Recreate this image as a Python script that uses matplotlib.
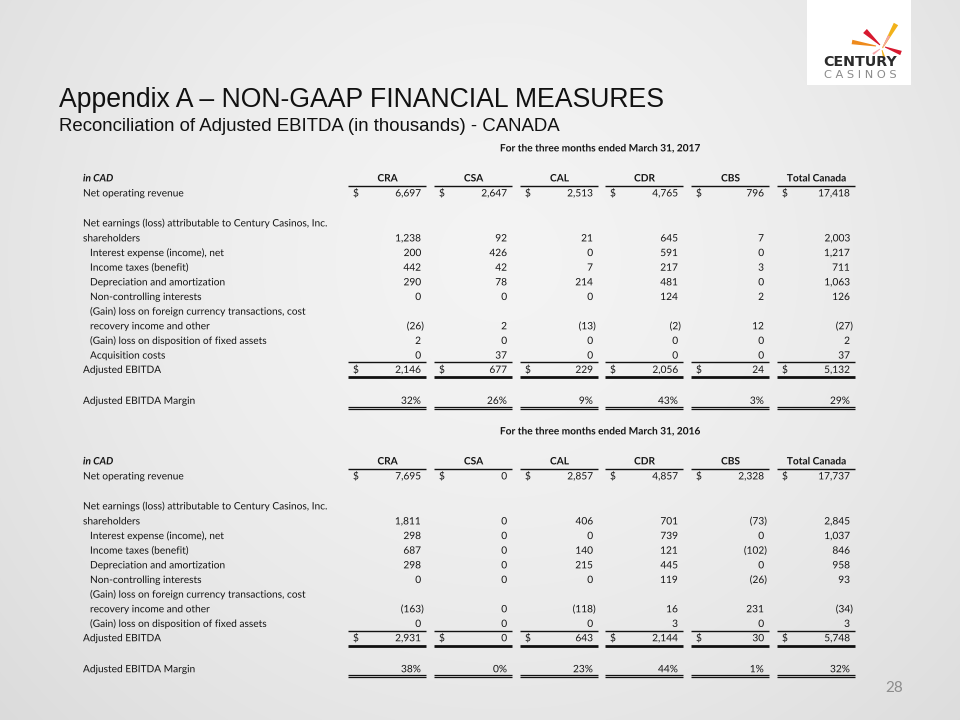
import numpy as np
import matplotlib
matplotlib.use("Agg")
import matplotlib.pyplot as plt
import matplotlib.patheffects as pe
from matplotlib.patches import Rectangle, Polygon

# ---------------- data ----------------
columns = ["CRA", "CSA", "CAL", "CDR", "CBS", "Total Canada"]

period_2017 = "For the three months ended March 31, 2017"
period_2016 = "For the three months ended March 31, 2016"

net_rev_2017 = [6697, 2647, 2513, 4765, 796, 17418]
net_earn_2017 = [1238, 92, 21, 645, 7, 2003]
interest_2017 = [200, 426, 0, 591, 0, 1217]
taxes_2017 = [442, 42, 7, 217, 3, 711]
dep_2017 = [290, 78, 214, 481, 0, 1063]
nci_2017 = [0, 0, 0, 124, 2, 126]
fx_2017 = [-26, 2, -13, -2, 12, -27]
disp_2017 = [2, 0, 0, 0, 0, 2]
acq_2017 = [0, 37, 0, 0, 0, 37]
ebitda_2017 = [2146, 677, 229, 2056, 24, 5132]
margin_2017 = [32, 26, 9, 43, 3, 29]

net_rev_2016 = [7695, 0, 2857, 4857, 2328, 17737]
net_earn_2016 = [1811, 0, 406, 701, -73, 2845]
interest_2016 = [298, 0, 0, 739, 0, 1037]
taxes_2016 = [687, 0, 140, 121, -102, 846]
dep_2016 = [298, 0, 215, 445, 0, 958]
nci_2016 = [0, 0, 0, 119, -26, 93]
fx_2016 = [-163, 0, -118, 16, 231, -34]
disp_2016 = [0, 0, 0, 3, 0, 3]
ebitda_2016 = [2931, 0, 643, 2144, 30, 5748]
margin_2016 = [38, 0, 23, 44, 1, 32]

lbl_net_rev = "Net operating revenue"
lbl_earn1 = "Net earnings (loss) attributable to Century Casinos, Inc."
lbl_earn2 = "shareholders"
lbl_interest = "Interest expense (income), net"
lbl_taxes = "Income taxes (benefit)"
lbl_dep = "Depreciation and amortization"
lbl_nci = "Non-controlling interests"
lbl_fx1 = "(Gain) loss on foreign currency transactions, cost"
lbl_fx2 = "recovery income and other"
lbl_disp = "(Gain) loss on disposition of fixed assets"
lbl_acq = "Acquisition costs"
lbl_ebitda = "Adjusted EBITDA"
lbl_margin = "Adjusted EBITDA Margin"

title = "Appendix A \u2013 NON-GAAP FINANCIAL MEASURES"
subtitle = "Reconciliation of Adjusted EBITDA (in thousands) - CANADA"
page_no = "28"

# ---------------- figure ----------------
W, H = 960, 720
fig = plt.figure(figsize=(W / 100, H / 100), dpi=100)
ax = fig.add_axes([0, 0, 1, 1])
ax.set_xlim(0, W)
ax.set_ylim(H, 0)
ax.axis("off")

# background radial gradient
yy, xx = np.mgrid[0:H, 0:W]
d = np.sqrt((xx - 500) ** 2 + (yy - 260) ** 2) / 700.0
val = 0.955 - 0.10 * np.clip(d, 0, 1.2) ** 1.6
bg = np.dstack([val, val, val])
ax.imshow(bg, extent=[0, W, H, 0], aspect="auto", zorder=0, interpolation="bilinear")

# logo
ax.add_patch(Rectangle((807, 0), 104, 85, facecolor="white", edgecolor="none", zorder=1))


def stroke(p0, p1, w0, w1, color):
    p0 = np.array(p0, float)
    p1 = np.array(p1, float)
    v = p1 - p0
    n = np.array([-v[1], v[0]]) / np.hypot(*v)
    pts = [p0 + n * w0 / 2, p1 + n * w1 / 2, p1 - n * w1 / 2, p0 - n * w0 / 2]
    ax.add_patch(Polygon(pts, closed=True, facecolor=color, edgecolor="none", zorder=2))


stroke((882.5, 48), (896, 24), 1.0, 5.0, "#f2b21a")
stroke((880, 45), (865, 31), 1.0, 5.5, "#d7192f")
stroke((876, 46), (852, 42), 1.0, 4.5, "#ee8a1c")
stroke((885, 47), (901, 53), 1.0, 4.5, "#d7192f")
stroke((883, 47), (889, 36), 0.8, 2.5, "#f4a3a8")
stroke((882, 50), (884, 57), 0.8, 2.2, "#f2b21a")
stroke((880, 49), (873, 54), 0.8, 2.2, "#f4a3a8")

ax.text(860, 65.5, "CENTURY", fontsize=10.3, fontweight="bold", color="#2b2b2b",
        ha="center", va="baseline", family=["DejaVu Sans"], zorder=3)
ax.text(860, 77.5, "C A S I N O S", fontsize=8.2, color="#8a8a8a",
        ha="center", va="baseline", family=["DejaVu Sans"], zorder=3)

# titles
sans = ["Liberation Sans", "DejaVu Sans"]
ax.text(59, 107, title, fontsize=19.2, color="#111111", family=sans,
        ha="left", va="baseline", zorder=3)
ax.text(59, 131, subtitle, fontsize=13.45, color="#111111", family=sans,
        ha="left", va="baseline", zorder=3)

# page number
ax.text(894, 691.5, page_no, fontsize=11, color="#8c8c8c", ha="center", va="baseline",
        family=["Lato", "DejaVu Sans"], zorder=3)

# ---------------- table drawing ----------------
tfont = ["Lato", "DejaVu Sans"]
FS = 7.3
TXT = "#141414"
BL = 3.4  # baseline offset from row centre
col_start = [348, 434, 520, 605, 691, 777]
col_w = 79
LX = 83
IX = 90
PE = [pe.Normal()]  # draw glyph outlines at exact (sub-pixel) baseline positions


def fmt(v, pct=False):
    s = f"{abs(v):,}" + ("%" if pct else "")
    return f"({s})" if v < 0 else s


def txt(x, y, s, ha="left", **kw):
    ax.text(x, y + BL, s, fontsize=FS, color=TXT, family=tfont, ha=ha,
            va="baseline", zorder=3, path_effects=PE, **kw)


def put_values(y, vals, dollar=False, pct=False):
    for cs, v in zip(col_start, vals):
        if v < 0:
            txt(cs + col_w - 3, y, fmt(v, pct), ha="right")
        else:
            txt(cs + col_w - 6, y, fmt(v, pct), ha="right")
        if dollar:
            txt(cs + 5, y, "$")


def hlines(y, lw):
    for cs in col_start:
        ax.plot([cs, cs + col_w - 1], [y, y], color="#111111", lw=lw,
                solid_capstyle="butt", zorder=3)


def label(y, text, indent=False):
    txt(IX if indent else LX, y, text)


def draw_table(top, period, rev, earn, interest, taxes, dep, nci, fx, disp, acq,
               ebitda, margin):
    txt(601, top, period, ha="center", fontweight="bold")
    yh = top + 30
    txt(LX, yh, "in CAD", fontweight="bold", fontstyle="italic")
    for cs, c in zip(col_start, columns):
        txt(cs + col_w / 2, yh, c, ha="center", fontweight="bold")
    hlines(yh + 8, 1.0)
    y = top + 45
    label(y, lbl_net_rev)
    put_values(y, rev, dollar=True)
    y = top + 75
    label(y, lbl_earn1)
    y += 15
    label(y, lbl_earn2)
    put_values(y, earn)
    step = 14.65
    rows = [(lbl_interest, interest), (lbl_taxes, taxes), (lbl_dep, dep),
            (lbl_nci, nci)]
    for lt, vals in rows:
        y += step
        label(y, lt, True)
        put_values(y, vals)
    y += step
    label(y, lbl_fx1, True)
    y += step
    label(y, lbl_fx2, True)
    put_values(y, fx)
    y += step
    label(y, lbl_disp, True)
    put_values(y, disp)
    if acq is not None:
        y += step
        label(y, lbl_acq, True)
        put_values(y, acq)
    y += 14.3
    hlines(y - 7.3, 1.0)
    label(y, lbl_ebitda)
    put_values(y, ebitda, dollar=True)
    hlines(y + 7.8, 2.0)
    y += 31
    label(y, lbl_margin)
    put_values(y, margin, pct=True)
    hlines(y + 6.2, 0.9)
    hlines(y + 8.6, 0.9)


draw_table(148, period_2017, net_rev_2017, net_earn_2017, interest_2017, taxes_2017,
           dep_2017, nci_2017, fx_2017, disp_2017, acq_2017, ebitda_2017, margin_2017)
draw_table(431, period_2016, net_rev_2016, net_earn_2016, interest_2016, taxes_2016,
           dep_2016, nci_2016, fx_2016, disp_2016, None, ebitda_2016, margin_2016)

fig.savefig("out.png", dpi=100)
